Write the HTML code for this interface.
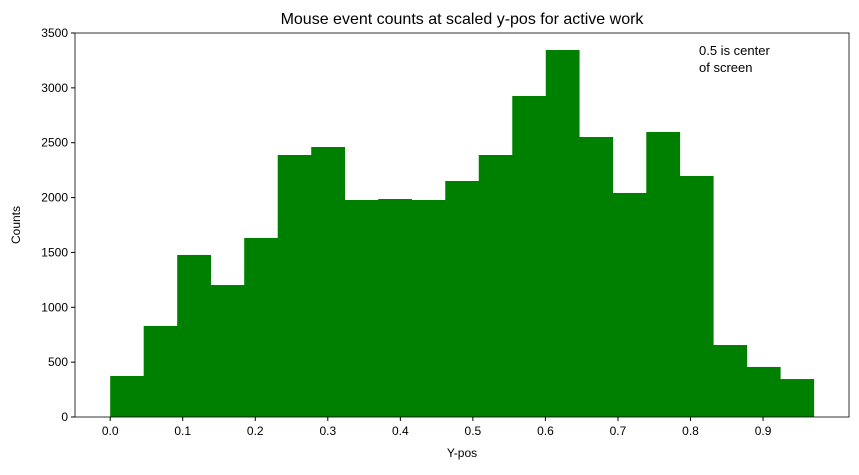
<!DOCTYPE html>
<html><head><meta charset="utf-8"><style>
body{margin:0;background:#fff;font-family:"Liberation Sans","DejaVu Sans",sans-serif;}
</style></head><body>
<svg id="chart" width="859" height="470" xmlns="http://www.w3.org/2000/svg">
<rect width="859" height="470" fill="#fff"/>
<text x="462" y="24" font-size="16" text-anchor="middle" fill="#000">Mouse event counts at scaled y-pos for active work</text>
<g id="bars"></g>
<g id="axes"></g>
<text x="462" y="457" font-size="12" text-anchor="middle">Y-pos</text>
<text x="20" y="225" font-size="12" text-anchor="middle" transform="rotate(-90 20 225)">Counts</text>
<text x="699" y="55" font-size="13">0.5 is center</text>
<text x="699" y="72" font-size="13">of screen</text>
</svg>
<script>
const binStart = 0.0;
const binEnd = 0.97;
const counts = [374, 830, 1477, 1203, 1632, 2388, 2461, 1978, 1987, 1978, 2151, 2388, 2926, 3345, 2552, 2042, 2598, 2197, 656, 456, 346];
const xTicks = [0.0, 0.1, 0.2, 0.3, 0.4, 0.5, 0.6, 0.7, 0.8, 0.9];
const yTicks = [0, 500, 1000, 1500, 2000, 2500, 3000, 3500];

const L=75,R=849,T=33,B=417;
const xmin=-0.0485,xmax=1.0185,ymax=3500;
const xs=v=>L+(v-xmin)/(xmax-xmin)*(R-L);
const ys=v=>B-v/ymax*(B-T);
const NS="http://www.w3.org/2000/svg";
const bars=document.getElementById('bars'),axes=document.getElementById('axes');
const w=(binEnd-binStart)/counts.length;
counts.forEach((c,i)=>{
  const r=document.createElementNS(NS,'rect');
  const x0=xs(binStart+i*w),x1=xs(binStart+(i+1)*w);
  r.setAttribute('x',x0);r.setAttribute('width',x1-x0+0.3);
  r.setAttribute('y',ys(c));r.setAttribute('height',B-ys(c));
  r.setAttribute('fill','#008000');
  
  
  bars.appendChild(r);
});
const frame=document.createElementNS(NS,'rect');
frame.setAttribute('x',L);frame.setAttribute('y',T);frame.setAttribute('width',R-L);frame.setAttribute('height',B-T);
frame.setAttribute('fill','none');frame.setAttribute('stroke','#000');frame.setAttribute('stroke-width','0.8');


axes.appendChild(frame);
xTicks.forEach(t=>{
  const x=xs(t);
  const l=document.createElementNS(NS,'line');
  l.setAttribute('x1',x);l.setAttribute('x2',x);l.setAttribute('y1',B);l.setAttribute('y2',B+4);l.setAttribute('stroke','#000');
  
  
  axes.appendChild(l);
  const tx=document.createElementNS(NS,'text');
  tx.setAttribute('x',x);tx.setAttribute('y',B+18);tx.setAttribute('font-size','12');tx.setAttribute('text-anchor','middle');
  tx.textContent=t.toFixed(1);
  
  
  axes.appendChild(tx);
});
yTicks.forEach(t=>{
  const y=ys(t);
  const l=document.createElementNS(NS,'line');
  l.setAttribute('x1',L-4);l.setAttribute('x2',L);l.setAttribute('y1',y);l.setAttribute('y2',y);l.setAttribute('stroke','#000');
  
  
  axes.appendChild(l);
  const tx=document.createElementNS(NS,'text');
  tx.setAttribute('x',L-7);tx.setAttribute('y',y+4);tx.setAttribute('font-size','12');tx.setAttribute('text-anchor','end');
  tx.textContent=t;
  
  
  axes.appendChild(tx);
});
</script>
</body></html>
